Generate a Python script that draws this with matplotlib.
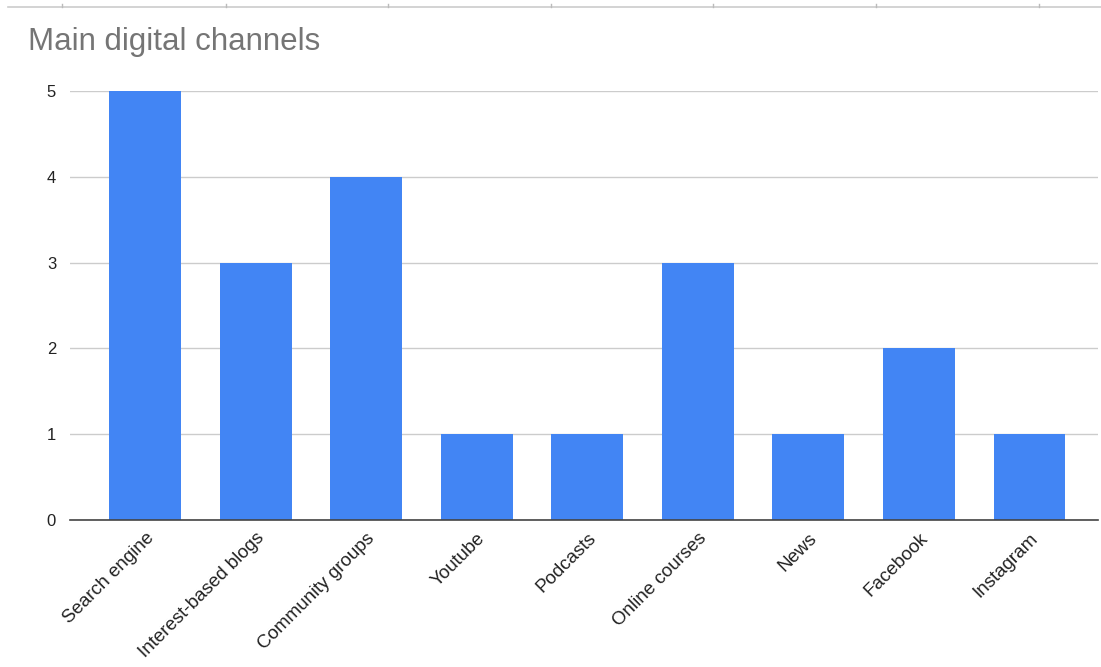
import matplotlib
matplotlib.use("Agg")
import matplotlib.pyplot as plt
from matplotlib.lines import Line2D

categories = ["Search engine", "Interest-based blogs", "Community groups", "Youtube",
              "Podcasts", "Online courses", "News", "Facebook", "Instagram"]
values = [5, 3, 4, 1, 1, 3, 1, 2, 1]
yticks = [0, 1, 2, 3, 4, 5]

plt.rcParams['font.family'] = ['Liberation Sans', 'DejaVu Sans']

W, H = 1101, 667
fig = plt.figure(figsize=(W / 100, H / 100), dpi=100)
ax = fig.add_axes([70 / W, 1 - 520 / H, (1098 - 70) / W, (520 - 91) / H])

x = list(range(len(categories)))
ax.bar(x, values, width=0.65, color="#4285F4", zorder=3)

ax.set_ylim(0, 5)
ax.set_xlim(-0.68, 8.62)
ax.set_yticks(yticks)
ax.set_yticklabels([str(t) for t in yticks], fontsize=12, color="#222222")
ax.yaxis.grid(True, color="#cccccc", linewidth=1, zorder=0)
ax.tick_params(axis="y", length=0, pad=10)
ax.tick_params(axis="x", length=0, pad=7)
ax.set_xticks(x)
ax.set_xticklabels(categories, rotation=45, ha="right", rotation_mode="anchor",
                   fontsize=13.5, color="#222222")
for s in ["top", "right", "left"]:
    ax.spines[s].set_visible(False)
ax.spines["bottom"].set_color("#444444")
ax.spines["bottom"].set_linewidth(1.2)
ax.spines["bottom"].set_zorder(4)

fig.text(28 / W, 1 - 42 / H, "Main digital channels", fontsize=22.5, color="#757575",
         ha="left", va="center")

# top border artifact
fig.add_artist(Line2D([8 / W, 1], [1 - 7 / H, 1 - 7 / H], color="#cccccc", linewidth=1.2))
for px in [62, 226, 388, 551, 713, 876, 1039]:
    fig.add_artist(Line2D([px / W, px / W], [1 - 7 / H, 1 - 4 / H], color="#bbbbbb", linewidth=1))

fig.savefig("out.png", dpi=100)
